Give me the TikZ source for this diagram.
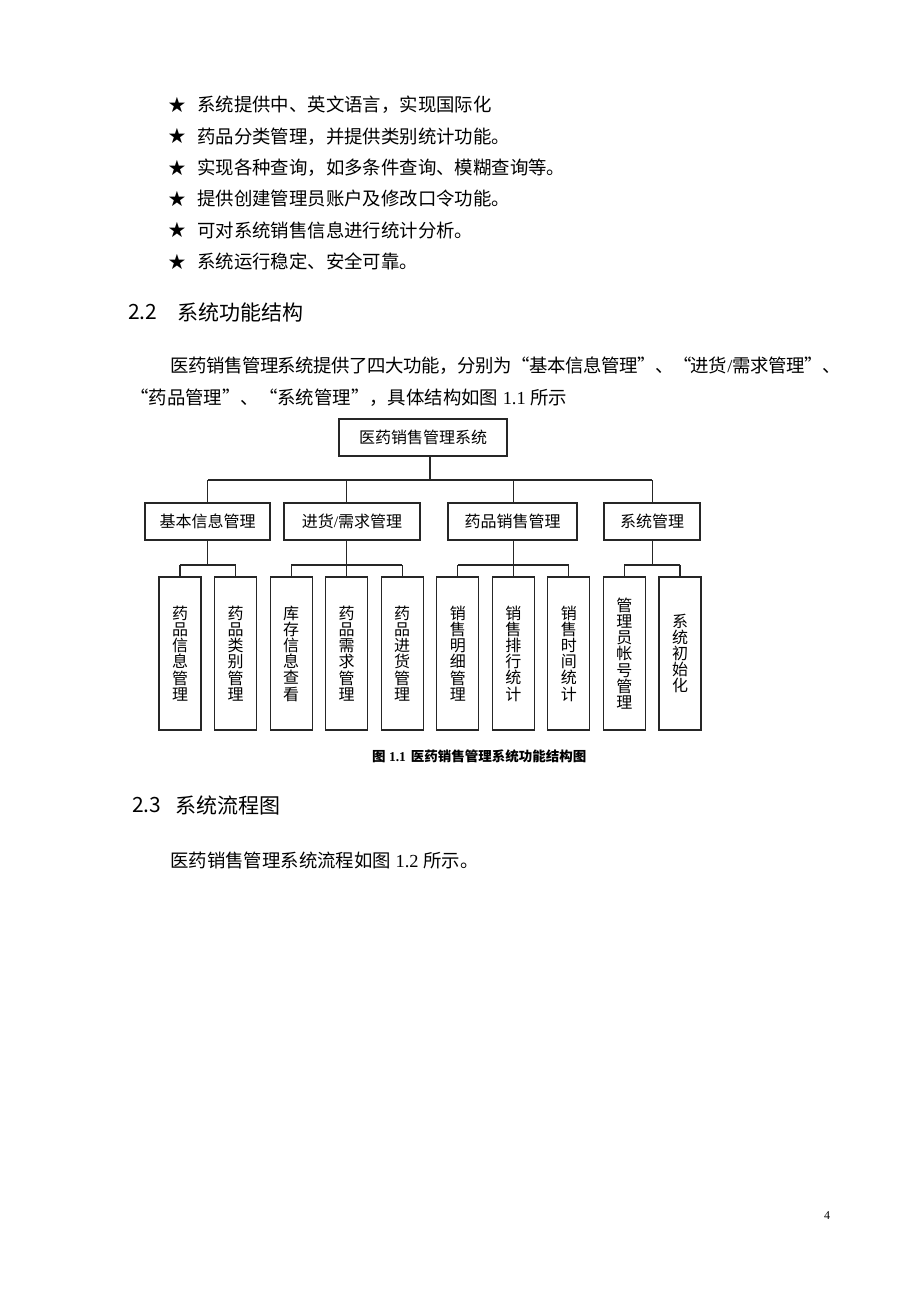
\documentclass[tikz,border=0pt]{standalone}
\usepackage{fontspec}
\setmainfont{Noto Sans CJK SC}
\newfontfamily\latinfont{Liberation Serif}
\newfontfamily\symfont{DejaVu Sans}
\usetikzlibrary{calc}

\tikzset{
  textline/.style={anchor=west,inner sep=0pt,font=\fontsize{18.4}{20}\selectfont},
  headline/.style={anchor=west,inner sep=0pt,font=\fontsize{21}{24}\selectfont},
  box/.style={draw=black!85,line width=1.1pt,inner sep=0pt,
    font=\fontsize{16}{16.2}\selectfont},
  rootbox/.style={box,minimum width=168pt,minimum height=37pt},
  leafbox/.style={box,minimum width=42pt,minimum height=153pt,align=center},
  link/.style={draw=black!85,line width=1.1pt}
}

\begin{document}
\begin{tikzpicture}[x=1pt,y=-1pt]
\useasboundingbox (0,0) rectangle (920,1302);
\fill[white] (0,0) rectangle (920,1302);

% the list of features
\foreach \i/\txt in {1/系统提供中、英文语言，实现国际化,
                     2/药品分类管理，并提供类别统计功能。,
                     3/实现各种查询，如多条件查询、模糊查询等。,
                     4/提供创建管理员账户及修改口令功能。,
                     5/可对系统销售信息进行统计分析。,
                     6/系统运行稳定、安全可靠。}
{
  \node[anchor=center,inner sep=0pt,font=\symfont\fontsize{21}{22}\selectfont]
    (star\i) at (177,{105+31.3*(\i-1)}) {★};
  \node[textline] (item\i) at (197,{105+31.3*(\i-1)}) {\txt};
}

% section 2.2
\node[headline] (sec22num) at (128,312) {2.2};
\node[headline] (sec22title) at (177,312) {系统功能结构};
\node[textline] (para1a) at (170,366)
  {\addfontfeature{LetterSpace=-2.4}医药销售管理系统提供了四大功能，分别为“基本信息管理”、“进货{\latinfont /}需求管理”、};
\node[textline] (para1b) at (130,398)
  {“药品管理”、“系统管理”，具体结构如图{\latinfont\ 1.1 }所示};

% the structure chart
\node[rootbox] (root) at (423,437.5) {医药销售管理系统};
\node[box,minimum width=125pt,minimum height=37pt] (m1) at (207.5,521.5) {基本信息管理};
\node[box,minimum width=136pt,minimum height=37pt] (m2) at (352,521.5) {进货{\latinfont /}需求管理};
\node[box,minimum width=129pt,minimum height=37pt] (m3) at (512.5,521.5) {药品销售管理};
\node[box,minimum width=96pt,minimum height=37pt] (m4) at (652,521.5) {系统管理};

\foreach \i/\txt in {1/{药\\品\\信\\息\\管\\理},
                     2/{药\\品\\类\\别\\管\\理},
                     3/{库\\存\\信\\息\\查\\看},
                     4/{药\\品\\需\\求\\管\\理},
                     5/{药\\品\\进\\货\\管\\理},
                     6/{销\\售\\明\\细\\管\\理},
                     7/{销\\售\\排\\行\\统\\计},
                     8/{销\\售\\时\\间\\统\\计},
                     9/{管\\理\\员\\帐\\号\\管\\理},
                     10/{系\\统\\初\\始\\化}}
  \node[leafbox] (l\i) at ({180+55.56*(\i-1)},653.5) {\txt};

\coordinate (busline) at (0,480);
\coordinate (subline) at (0,565);

% connectors between the levels
\foreach \m/\first/\last in {m1/1/2,m2/3/5,m3/6/8,m4/9/10}
{
  \coordinate (top\m) at ($(l\first.north)!0.5!(l\last.north)$);
  \draw[link] (top\m|-busline) -- (top\m|-\m.north);
  \draw[link] (top\m|-\m.south) -- (top\m|-subline);
  \draw[link] (l\first.north|-subline) -- (l\last.north|-subline);
}
\foreach \i in {1,...,10}
  \draw[link] (l\i.north) -- (l\i.north|-subline);
\draw[link] (topm1|-busline) -- (topm4|-busline);
\coordinate (rootstem) at ($(topm1)!0.5!(topm4)$);
\draw[link] (rootstem|-root.south) -- (rootstem|-busline);

% caption
\node[anchor=west,inner sep=0pt,font=\fontsize{13.5}{15}\selectfont\bfseries]
  (caption) at (372,756) {图{\latinfont\ 1.1}\hspace{5pt}医药销售管理系统功能结构图};

% section 2.3
\node[headline] (sec23num) at (132,805) {2.3};
\node[headline] (sec23title) at (175,805) {系统流程图};
\node[textline] (para2) at (170,860) {医药销售管理系统流程如图{\latinfont\ 1.2 }所示。};

% page number
\node[anchor=center,inner sep=0pt,font=\latinfont\fontsize{12}{14}\selectfont]
  (pagenum) at (827,1216) {4};
\end{tikzpicture}
\end{document}
